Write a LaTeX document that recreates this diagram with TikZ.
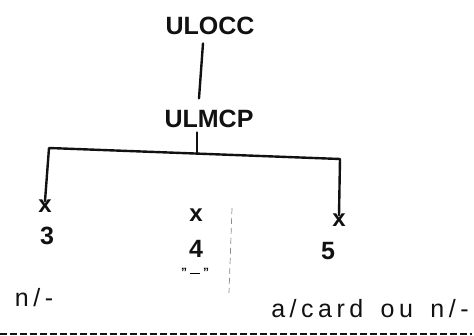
\documentclass[tikz,border=0pt]{standalone}
\usepackage{fontspec}
\setmainfont{Liberation Sans}
\usepackage{tikz}
\usetikzlibrary{positioning,calc}
\definecolor{TreeInk}{HTML}{111111}
\definecolor{TreeFaint}{HTML}{8A8A8A}
\newfontfamily\spacedfont[LetterSpace=18]{Liberation Sans}

\begin{document}
\begin{tikzpicture}[x=1pt,y=-1pt,
  word/.style={inner sep=0pt,anchor=base,text=TreeInk,font=\fontsize{25}{30}\selectfont\bfseries},
  leafx/.style={inner sep=0pt,anchor=base,text=TreeInk,font=\fontsize{24}{28}\selectfont\bfseries},
  note/.style={inner sep=0pt,anchor=base,text=TreeInk,font=\fontsize{25}{28}\spacedfont},
  branch/.style={draw=TreeInk,line width=2.4pt,line cap=round,line join=round}]
  \useasboundingbox (0,0) rectangle (474,336);
  % upper part of the tree
  \node[word] (ulocc) at (210,35) {ULOCC};
  \node[word] (ulmcp) at (209,128) {ULMCP};
  \draw[branch] ([xshift=-7]ulocc.south) ++(0,8) -- ($([xshift=-10]ulmcp.north)+(0,-12)$);
  % bracket corners
  \coordinate (cl) at (49,148);
  \coordinate (cr) at (340,159);
  \coordinate (mid) at (197,154);
  \draw[branch] ([xshift=-12]ulmcp.south) ++(0,4) -- (mid);
  % leaves: x mark and number
  \foreach \n/\mx/\mb/\nx/\nb in {3/45/213/47/245,4/196/222/196/258,5/339/227/328/260}{
     \node[leafx] (x\n) at (\mx,\mb) {x};
     \node[word] (n\n) at (\nx,\nb) {\n};}
  \draw[branch] ([yshift=-1]x3.north) -- (cl) -- (cr) -- ([yshift=-1]x5.north);
  \node[inner sep=0pt,anchor=base,font=\fontsize{12}{12}\selectfont\bfseries] (dash4) at (195,277)
     {"\hspace{3pt}\rule[2.5pt]{10pt}{1.5pt}\hspace{3pt}"};
  % faint separator and bottom rule
  \draw[TreeFaint,line width=0.7pt,dash pattern=on 6pt off 4pt] (232,208) -- (229,293);
  \node[note] (left) at (34,307) {n/-};
  \node[note] (right) at (370,318) {a/card\hspace{6pt} ou\hspace{6pt} n/-};
  \draw[TreeInk,line width=1.1pt,dash pattern=on 7pt off 3pt] (0,334) -- (472,334);
\end{tikzpicture}
\end{document}
